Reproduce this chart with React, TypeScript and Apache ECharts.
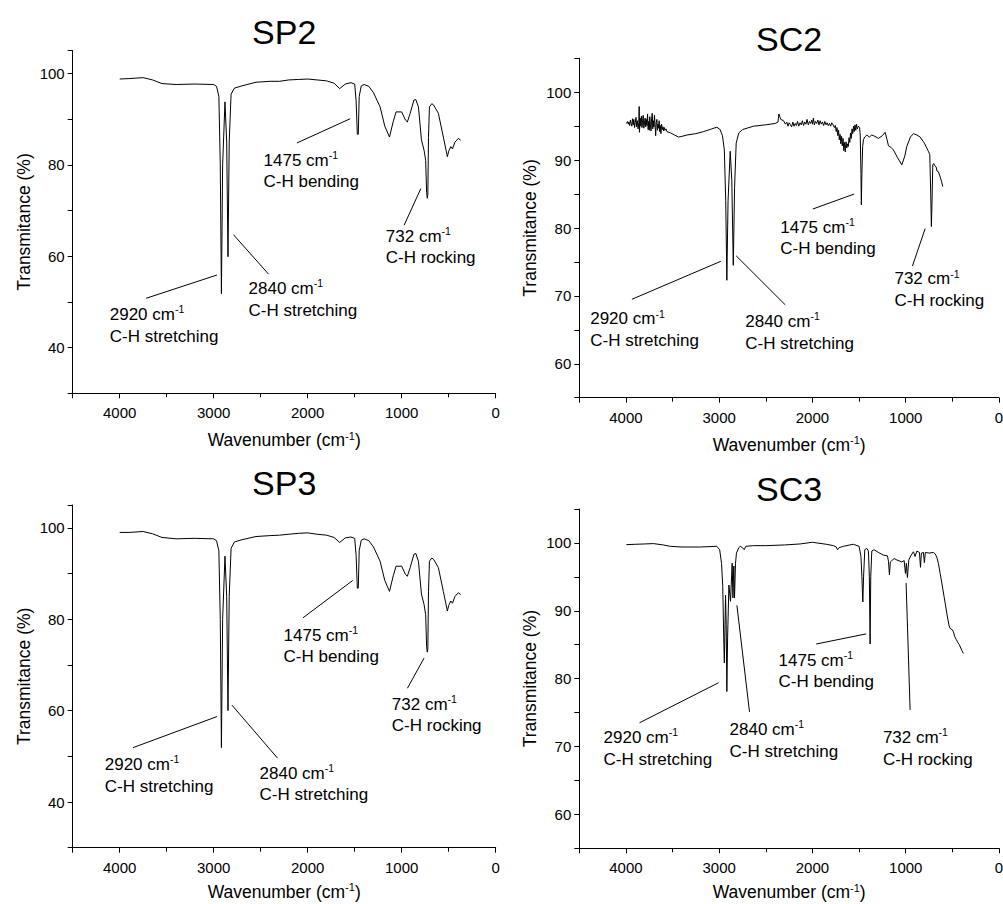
import React, { useEffect, useRef } from 'react';
import * as echarts from 'echarts';

const FONT = '"Liberation Sans", Arial, Helvetica, sans-serif';

// ---------- data (wavenumber cm-1, transmittance %) ----------
const SP2_SPECTRUM: [number, number][] = [
  [4000, 98.8], [3900, 98.9], [3750, 99.1], [3650, 98.6], [3550, 97.8], [3400, 97.6], [3200, 97.7],
  [3000, 97.6], [2970, 97.2], [2945, 95], [2930, 80], [2918, 51.8], [2905, 80], [2880, 93.8],
  [2862, 85], [2848, 59.9], [2835, 85], [2815, 95.5], [2780, 96.8], [2700, 97.3], [2550, 98.1],
  [2400, 98.3], [2300, 98.3], [2200, 98.6], [2100, 98.7], [2000, 98.8], [1900, 98.6], [1800, 98.4],
  [1720, 97.9], [1660, 96.7], [1600, 97.7], [1540, 98.0], [1500, 97.7], [1485, 94], [1472, 86.7],
  [1462, 86.7], [1452, 95], [1430, 97.3], [1400, 97.6], [1350, 97.2], [1300, 95.8], [1230, 92.7],
  [1180, 88.5], [1130, 86.1], [1090, 89.5], [1060, 91.6], [1000, 91.6], [960, 89.8], [940, 89.4],
  [910, 91.3], [870, 94.2], [850, 94.3], [822, 92.7], [790, 85.5], [762, 83.2], [745, 81], [735, 74],
  [728, 72.7], [722, 73.5], [715, 86], [705, 92.7], [680, 93.4], [660, 93.1], [610, 91.3], [557, 86.1],
  [514, 81.8], [500, 83], [478, 84.0], [460, 83.5], [433, 85.0], [397, 85.8], [372, 85.4],
];

const SP3_SPECTRUM: [number, number][] = [
  [4000, 99.0], [3900, 99.0], [3750, 99.2], [3650, 98.7], [3550, 97.9], [3400, 97.6], [3200, 97.7],
  [3000, 97.6], [2970, 97.2], [2945, 95], [2930, 80], [2918, 51.9], [2905, 80], [2880, 93.8],
  [2862, 85], [2848, 60.0], [2835, 85], [2815, 95.5], [2780, 96.9], [2700, 97.4], [2550, 98.1],
  [2400, 98.3], [2300, 98.4], [2200, 98.6], [2100, 98.8], [2000, 98.9], [1900, 98.6], [1800, 98.4],
  [1720, 97.9], [1660, 96.8], [1600, 97.8], [1540, 98.0], [1500, 97.7], [1485, 94], [1472, 86.8],
  [1462, 86.8], [1452, 95], [1430, 97.3], [1400, 97.6], [1350, 97.2], [1300, 95.8], [1230, 92.7],
  [1180, 88.5], [1130, 86.1], [1090, 89.5], [1060, 91.6], [1000, 91.6], [960, 89.8], [940, 89.4],
  [910, 91.3], [870, 94.2], [850, 94.4], [822, 92.7], [790, 85.5], [762, 83.2], [745, 81], [735, 74],
  [728, 72.8], [722, 73.5], [715, 86], [705, 92.7], [680, 93.4], [660, 93.1], [610, 91.3], [557, 86.1],
  [514, 81.8], [500, 83], [478, 84.0], [460, 83.5], [433, 85.0], [397, 85.8], [372, 85.4],
];

const SC2_SPECTRUM: [number, number][] = [
  [3995, 95.4], [3982, 95.7], [3975, 95.3], [3968, 95.6], [3960, 95.1], [3952, 95.9], [3945, 95.4],
  [3937, 95.0], [3930, 96.1], [3922, 95.2], [3915, 96.0], [3907, 94.8], [3900, 95.6], [3892, 96.3],
  [3885, 94.9], [3877, 95.8], [3870, 94.6], [3862, 95.5], [3858, 97.9], [3855, 94.1], [3848, 96.2],
  [3840, 95.0], [3834, 96.5], [3828, 94.8], [3821, 95.9], [3815, 96.6], [3808, 94.7], [3800, 95.6],
  [3794, 96.2], [3788, 94.9], [3781, 96.0], [3775, 95.1], [3768, 96.8], [3762, 94.5], [3756, 95.7],
  [3750, 94.4], [3744, 96.4], [3738, 95.3], [3731, 94.3], [3725, 96.1], [3718, 96.9], [3712, 94.6],
  [3706, 95.8], [3700, 94.9], [3694, 96.6], [3688, 95.2], [3681, 93.6], [3675, 95.5], [3668, 96.0],
  [3662, 94.4], [3656, 95.3], [3650, 94.7], [3644, 95.8], [3638, 94.2], [3631, 95.1], [3625, 93.9],
  [3618, 95.3], [3610, 94.5], [3602, 94.9], [3595, 94.3], [3588, 94.8], [3580, 94.4], [3570, 94.6],
  [3560, 94.2], [3520, 94.0], [3480, 93.7], [3436, 93.4], [3400, 93.5], [3346, 93.7], [3250, 93.9],
  [3168, 94.2], [3080, 94.6], [3025, 94.85], [2990, 94.5], [2965, 93.6], [2945, 91.5], [2930, 84],
  [2918, 72.3], [2905, 84], [2882, 91.3], [2865, 87], [2849, 74.5], [2835, 86], [2818, 92.5],
  [2790, 94.0], [2750, 94.5], [2632, 95.0], [2500, 95.2], [2400, 95.4], [2370, 95.6], [2360, 96.8],
  [2340, 96.0], [2310, 95.8], [2290, 95.3], [2275, 95.6], [2262, 95.0], [2250, 95.5], [2236, 95.2],
  [2224, 94.9], [2210, 95.6], [2198, 95.0], [2185, 95.4], [2172, 95.1], [2160, 95.7], [2147, 95.0],
  [2134, 95.5], [2120, 95.2], [2108, 95.8], [2095, 95.1], [2083, 95.6], [2070, 95.3], [2058, 96.0],
  [2045, 95.2], [2032, 95.7], [2020, 95.4], [2008, 95.9], [2000, 95.3], [1990, 96.2], [1980, 95.2],
  [1968, 95.7], [1955, 95.4], [1942, 95.9], [1930, 95.2], [1918, 95.8], [1905, 95.3], [1893, 95.6],
  [1880, 95.1], [1868, 95.7], [1855, 95.2], [1843, 95.5], [1830, 95.1], [1818, 95.4], [1805, 95.0],
  [1793, 95.5], [1780, 95.2], [1765, 94.8], [1755, 95.1], [1745, 94.2], [1737, 94.8], [1728, 93.6],
  [1720, 94.4], [1712, 93.0], [1704, 93.8], [1696, 92.4], [1688, 93.5], [1680, 92.1], [1672, 93.2],
  [1664, 91.4], [1656, 92.6], [1648, 91.2], [1640, 92.7], [1632, 91.8], [1624, 92.4], [1616, 92.0],
  [1608, 93.3], [1600, 92.6], [1592, 94.0], [1584, 93.2], [1576, 94.6], [1568, 93.9], [1560, 95.0],
  [1552, 94.2], [1544, 95.2], [1536, 94.4], [1528, 95.3], [1520, 94.6], [1507, 95.0], [1495, 94.8],
  [1488, 93.7], [1480, 88], [1476, 83.4], [1470, 88], [1462, 92.0], [1453, 93.0], [1440, 93.4],
  [1417, 93.7], [1390, 93.4], [1364, 93.7], [1330, 93.5], [1293, 93.2], [1250, 93.6], [1221, 94.1],
  [1200, 93.0], [1185, 92.1], [1160, 91.9], [1132, 91.5], [1090, 90.4], [1042, 89.3], [1010, 90.6],
  [989, 92.0], [950, 93.4], [917, 93.9], [880, 93.7], [846, 93.4], [800, 92.5], [757, 91.3],
  [742, 90.8], [732, 85], [725, 80.2], [718, 84], [710, 89.3], [700, 89.5], [690, 89.2], [674, 89.0],
  [665, 88.4], [650, 88.3], [630, 87.5], [615, 86.8], [603, 86.1],
];

const SC3_SPECTRUM: [number, number][] = [
  [3995, 99.75], [3900, 99.8], [3800, 99.85], [3704, 99.9], [3600, 99.7], [3525, 99.5], [3400, 99.4],
  [3200, 99.4], [3025, 99.5], [2995, 99.0], [2975, 97.0], [2962, 93.6], [2950, 85], [2945, 82.3],
  [2940, 86], [2932, 92.3], [2925, 88], [2918, 78.1], [2910, 86], [2896, 93.8], [2879, 91.4],
  [2861, 97.0], [2853, 91.9], [2843, 96.6], [2836, 91.9], [2825, 97.0], [2815, 98.5], [2790, 99.3],
  [2775, 99.5], [2750, 99.3], [2732, 99.0], [2715, 99.5], [2632, 99.6], [2500, 99.6], [2300, 99.7],
  [2132, 99.85], [2000, 100.1], [1953, 100.0], [1850, 99.8], [1775, 99.6], [1745, 99.4], [1732, 99.0],
  [1715, 99.3], [1668, 99.5], [1600, 99.7], [1561, 99.8], [1500, 99.5], [1480, 98.0], [1470, 95],
  [1460, 91.3], [1452, 95], [1439, 99.0], [1417, 99.2], [1400, 98.8], [1390, 95], [1382, 85.1],
  [1375, 95], [1364, 98.8], [1340, 99.0], [1293, 98.6], [1239, 98.2], [1196, 98.1], [1185, 97.3],
  [1175, 95.3], [1165, 97.2], [1149, 97.4], [1124, 97.7], [1096, 97.5], [1042, 97.2], [1017, 97.4],
  [1003, 95.5], [993, 97.0], [982, 94.9], [967, 97.5], [942, 98.2], [917, 98.7], [900, 98.0],
  [881, 98.8], [853, 98.6], [842, 96.4], [832, 98.5], [810, 98.6], [800, 97.1], [790, 98.6],
  [750, 98.5], [703, 98.6], [685, 98.4], [667, 97.9], [650, 97.0], [631, 95.5], [613, 94.1],
  [589, 92.1], [553, 89.1], [535, 87.8], [524, 87.4], [500, 87.2], [489, 86.9], [475, 86.2],
  [460, 85.8], [440, 85.3], [425, 85.0], [400, 84.2], [389, 83.9], [382, 83.7],
];

// y ticks every SP_Y_STEP / SC_Y_STEP, labels every SP_Y_LABEL_STEP / SC_Y_LABEL_STEP
const SP_Y_STEP = 10;
const SP_Y_LABEL_STEP = 20;
const SC_Y_STEP = 5;
const SC_Y_LABEL_STEP = 10;

// ---------- annotations (in data coordinates) ----------
type Note = { wn: string; mode: string; at: [number, number]; line: [[number, number], [number, number]] };

const SP2_NOTES: Note[] = [
  { wn: '2920', mode: 'C-H stretching', at: [4106, 47.2], line: [[3719, 50.8], [2965, 55.9]] },
  { wn: '2840', mode: 'C-H stretching', at: [2629, 52.9], line: [[2789, 64.7], [2417, 56.1]] },
  { wn: '1475', mode: 'C-H bending', at: [2470, 81.0], line: [[2115, 84.8], [1548, 90.1]] },
  { wn: '732', mode: 'C-H rocking', at: [1169, 64.4], line: [[974, 66.8], [797, 74.8]] },
];
const SP3_NOTES: Note[] = [
  { wn: '2920', mode: 'C-H stretching', at: [4159, 48.2], line: [[3858, 51.9], [2965, 58.7]] },
  { wn: '2840', mode: 'C-H stretching', at: [2512, 46.3], line: [[2806, 61.2], [2321, 49.6]] },
  { wn: '1475', mode: 'C-H bending', at: [2257, 76.5], line: [[2051, 80.3], [1520, 88.5]] },
  { wn: '732', mode: 'C-H rocking', at: [1105, 61.4], line: [[939, 64.9], [762, 71.5]] },
];
const SC2_NOTES: Note[] = [
  { wn: '2920', mode: 'C-H stretching', at: [4383, 66.6], line: [[3936, 69.5], [2982, 75.1]] },
  { wn: '2840', mode: 'C-H stretching', at: [2721, 66.2], line: [[2818, 75.9], [2293, 68.7]] },
  { wn: '1475', mode: 'C-H bending', at: [2346, 80.1], line: [[1996, 82.8], [1553, 85.0]] },
  { wn: '732', mode: 'C-H rocking', at: [1121, 72.5], line: [[928, 74.4], [792, 79.9]] },
];
const SC3_NOTES: Note[] = [
  { wn: '2920', mode: 'C-H stretching', at: [4240, 71.3], line: [[3854, 73.5], [3007, 79.4]] },
  { wn: '2840', mode: 'C-H stretching', at: [2889, 72.5], line: [[2810, 90.8], [2675, 75.1]] },
  { wn: '1475', mode: 'C-H bending', at: [2364, 82.7], line: [[1960, 85.1], [1424, 86.6]] },
  { wn: '732', mode: 'C-H rocking', at: [1245, 71.3], line: [[996, 94.1], [953, 75.4]] },
];

const PANELS = [
  { title: 'SP2', data: SP2_SPECTRUM, notes: SP2_NOTES, yMin: 30, yMax: 105, yStep: SP_Y_STEP, yLabelStep: SP_Y_LABEL_STEP,
    grid: { left: 72.7, top: 50.7, width: 423, height: 342.6 }, titleY: 31.7, nameGap: 37 },
  { title: 'SC2', data: SC2_SPECTRUM, notes: SC2_NOTES, yMin: 55, yMax: 105, yStep: SC_Y_STEP, yLabelStep: SC_Y_LABEL_STEP,
    grid: { left: 579.3, top: 58.3, width: 419.7, height: 339.4 }, titleY: 39, nameGap: 37 },
  { title: 'SP3', data: SP3_SPECTRUM, notes: SP3_NOTES, yMin: 30, yMax: 105, yStep: SP_Y_STEP, yLabelStep: SP_Y_LABEL_STEP,
    grid: { left: 72.7, top: 505, width: 423, height: 342.7 }, titleY: 483, nameGap: 34 },
  { title: 'SC3', data: SC3_SPECTRUM, notes: SC3_NOTES, yMin: 55, yMax: 105, yStep: SC_Y_STEP, yLabelStep: SC_Y_LABEL_STEP,
    grid: { left: 579.3, top: 509, width: 419.7, height: 339.3 }, titleY: 489, nameGap: 34 },
];

const BLACK = '#000';

export default function App() {
  const ref = useRef<HTMLDivElement>(null);

  useEffect(() => {
    document.body.style.margin = '0';
    if (!ref.current) return;
    const chart = echarts.init(ref.current, null, { renderer: 'svg' });

    const option: any = {
      animation: false,
      backgroundColor: '#fff',
      grid: PANELS.map((p) => ({ ...p.grid, containLabel: false, outerBoundsMode: 'none' })),
      xAxis: PANELS.map((p, i) => ({
        type: 'value',
        gridIndex: i,
        min: 0,
        max: 4500,
        interval: 1000,
        inverse: true,
        name: '{a|Wavenumber (cm}{s|-1}{a|)}',
        nameLocation: 'middle',
        nameGap: p.nameGap,
        nameTextStyle: {
          rich: {
            a: { fontSize: 17.5, fontFamily: FONT, color: BLACK, lineHeight: 20 },
            s: { fontSize: 11, fontFamily: FONT, color: BLACK, lineHeight: 11, verticalAlign: 'top' },
          },
        },
        axisLine: { show: true, onZero: false, lineStyle: { color: BLACK, width: 1 } },
        axisTick: { show: true, length: 5, inside: false, lineStyle: { color: BLACK, width: 1 } },
        minorTick: { show: true, splitNumber: 2, length: 4, lineStyle: { color: BLACK, width: 1 } },
        axisLabel: {
          color: BLACK, fontSize: 15, fontFamily: FONT, margin: 12, showMaxLabel: false,
          formatter: (v: number) => String(v),
        },
        splitLine: { show: false },
        minorSplitLine: { show: false },
      })),
      yAxis: PANELS.map((p, i) => ({
        type: 'value',
        gridIndex: i,
        min: p.yMin,
        max: p.yMax,
        interval: p.yStep,
        position: 'left',
        name: 'Transmitance (%)',
        nameLocation: 'middle',
        nameRotate: 90,
        nameGap: 40,
        nameTextStyle: { fontSize: 17.5, fontFamily: FONT, color: BLACK },
        axisLine: { show: true, onZero: false, lineStyle: { color: BLACK, width: 1 } },
        axisTick: { show: true, length: 5, lineStyle: { color: BLACK, width: 1 } },
        axisLabel: {
          color: BLACK, fontSize: 15, fontFamily: FONT, margin: 8, showMinLabel: true, showMaxLabel: true,
          formatter: (v: number) => (v % p.yLabelStep === 0 && v >= p.yMin + 1 && v <= 100 ? String(v) : ''),
        },
        splitLine: { show: false },
      })),
      series: PANELS.map((p, i) => ({
        type: 'line',
        name: p.title,
        xAxisIndex: i,
        yAxisIndex: i,
        data: p.data,
        showSymbol: false,
        symbol: 'none',
        silent: true,
        lineStyle: { color: BLACK, width: 1 },
        markLine: {
          silent: true,
          symbol: ['none', 'none'],
          label: { show: false },
          lineStyle: { color: BLACK, width: 1, type: 'solid' },
          emphasis: { disabled: true },
          data: p.notes.map((n) => [{ coord: n.line[0] }, { coord: n.line[1] }]),
        },
      })),
    };
    chart.setOption(option);

    const graphics: any[] = [];
    PANELS.forEach((p, i) => {
      graphics.push({
        type: 'text',
        x: p.grid.left + p.grid.width / 2,
        y: p.titleY,
        style: { text: p.title, fontSize: 34, fontFamily: FONT, fill: BLACK, align: 'center', verticalAlign: 'middle' },
      });
      p.notes.forEach((n) => {
        const pt = chart.convertToPixel({ xAxisIndex: i, yAxisIndex: i } as any, n.at) as number[];
        graphics.push({
          type: 'text',
          x: pt[0],
          y: pt[1] - 10.75,
          style: {
            text: `{a|${n.wn} cm}{s|-1}\n{a|${n.mode}}`,
            align: 'left',
            verticalAlign: 'top',
            rich: {
              a: { fontSize: 17, lineHeight: 21.5, fontFamily: FONT, fill: BLACK },
              s: { fontSize: 10.5, lineHeight: 11, fontFamily: FONT, fill: BLACK, verticalAlign: 'top' },
            },
          },
        });
      });
    });
    chart.setOption({ graphic: graphics });

    return () => chart.dispose();
  }, []);

  return <div ref={ref} style={{ width: 1003, height: 904 }} />;
}
